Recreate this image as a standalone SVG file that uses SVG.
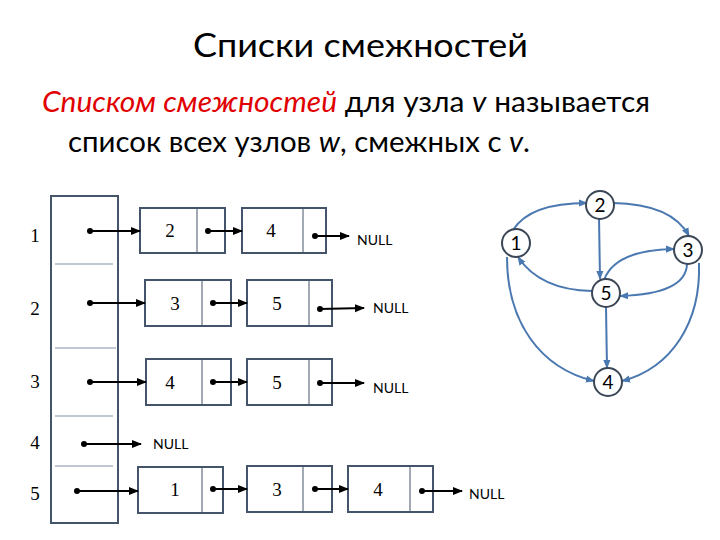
<svg xmlns="http://www.w3.org/2000/svg" width="720" height="540" viewBox="0 0 720 540">
<style>
.t{font-family:Lato,"Open Sans","Liberation Sans",sans-serif;fill:#000}
.red{fill:#e00000;font-style:italic}
.it{font-style:italic}
.box{fill:#fff;stroke:#44546a;stroke-width:2}
.div{stroke:#44546a;stroke-width:1}
.sep{stroke:#7f8fa6;stroke-width:1}
.num{font-family:"Liberation Serif","DejaVu Serif",serif;font-size:19px;fill:#000;text-anchor:middle}
.null{font-family:Lato,"Liberation Sans",sans-serif;font-size:14px;fill:#000}
.ptr{stroke:#000;stroke-width:2;fill:none;marker-end:url(#ah)}
.dot{fill:#000}
.gn{fill:#fff;stroke:#3b4656;stroke-width:2}
.gl{font-family:Lato,"Liberation Sans",sans-serif;font-size:19px;fill:#000;text-anchor:middle}
.ge{stroke:#4a78b0;stroke-width:2;fill:none;marker-end:url(#bh)}
</style>
<defs>
<marker id="ah" viewBox="0 0 10 10" refX="9" refY="5" markerWidth="5" markerHeight="5" orient="auto" markerUnits="strokeWidth"><path d="M0,1 L10,5 L0,9 z" fill="#000"/></marker>
<marker id="bh" viewBox="0 0 10 10" refX="9" refY="5" markerWidth="4.5" markerHeight="4.5" orient="auto" markerUnits="strokeWidth"><path d="M0,1 L10,5 L0,9 z" fill="#4a78b0"/></marker>
</defs>
<rect width="720" height="540" fill="#fff"/>
<g id="title">
<text class="t" x="193" y="57" font-size="33" textLength="335" lengthAdjust="spacingAndGlyphs">Списки смежностей</text>
<text class="t" x="42" y="112" font-size="28" textLength="608" lengthAdjust="spacingAndGlyphs"><tspan class="red">Списком смежностей</tspan> для узла <tspan class="it">v</tspan> называется</text>
<text class="t" x="68" y="152" font-size="28" textLength="462" lengthAdjust="spacingAndGlyphs">список всех узлов <tspan class="it">w</tspan>, смежных с <tspan class="it">v</tspan>.</text>
</g>
<g id="array">
<rect x="51" y="196" width="67" height="327" fill="#fff" stroke="#44546a" stroke-width="2"/>
<line class="sep" x1="55" y1="264" x2="113" y2="264"/>
<line class="sep" x1="55" y1="348" x2="116" y2="348"/>
<line class="sep" x1="55" y1="416" x2="113" y2="416"/>
<line class="sep" x1="55" y1="466" x2="113" y2="466"/>
<text class="num" x="35" y="242">1</text>
<text class="num" x="35" y="315">2</text>
<text class="num" x="35" y="388">3</text>
<text class="num" x="35" y="449">4</text>
<text class="num" x="35" y="500">5</text>
</g>
<g id="row1">
<rect class="box" x="140" y="208" width="85" height="45"/><line class="div" x1="197" y1="208" x2="197" y2="253"/>
<text class="num" x="170" y="237">2</text>
<rect class="box" x="242" y="208" width="84" height="45"/><line class="div" x1="303" y1="208" x2="303" y2="253"/>
<text class="num" x="271" y="237">4</text>
<text class="null" x="357" y="245">NULL</text>
</g>
<g id="row2">
<rect class="box" x="145" y="280" width="86" height="46"/><line class="div" x1="202" y1="280" x2="202" y2="326"/>
<text class="num" x="175" y="310">3</text>
<rect class="box" x="247" y="280" width="85" height="46"/><line class="div" x1="309" y1="280" x2="309" y2="326"/>
<text class="num" x="277" y="310">5</text>
<text class="null" x="373" y="313">NULL</text>
</g>
<g id="row3">
<rect class="box" x="146" y="359" width="85" height="46"/><line class="div" x1="202" y1="359" x2="202" y2="405"/>
<text class="num" x="170" y="389">4</text>
<rect class="box" x="247" y="359" width="85" height="46"/><line class="div" x1="309" y1="359" x2="309" y2="405"/>
<text class="num" x="277" y="389">5</text>
<text class="null" x="373" y="393">NULL</text>
</g>
<g id="row4">
<text class="null" x="153" y="449">NULL</text>
</g>
<g id="row5">
<rect class="box" x="138" y="467" width="85" height="46"/><line class="div" x1="202" y1="467" x2="202" y2="513"/>
<text class="num" x="175" y="496">1</text>
<rect class="box" x="247" y="466" width="85" height="46"/><line class="div" x1="303" y1="466" x2="303" y2="512"/>
<text class="num" x="277" y="496">3</text>
<rect class="box" x="348" y="466" width="85" height="46"/><line class="div" x1="410" y1="466" x2="410" y2="512"/>
<text class="num" x="378" y="496">4</text>
<text class="null" x="469" y="499">NULL</text>
</g>
<g id="pointers">
<circle class="dot" cx="90" cy="231" r="3"/><line class="ptr" x1="90" y1="231" x2="140" y2="231"/>
<circle class="dot" cx="208" cy="231" r="3"/><line class="ptr" x1="208" y1="231" x2="242" y2="231"/>
<circle class="dot" cx="315" cy="236" r="3"/><line class="ptr" x1="315" y1="236" x2="349" y2="236"/>
<circle class="dot" cx="90" cy="303" r="3"/><line class="ptr" x1="90" y1="303" x2="145" y2="303"/>
<circle class="dot" cx="213" cy="303" r="3"/><line class="ptr" x1="213" y1="303" x2="247" y2="303"/>
<circle class="dot" cx="320" cy="309" r="3"/><line class="ptr" x1="320" y1="309" x2="364" y2="308"/>
<circle class="dot" cx="90" cy="382" r="3"/><line class="ptr" x1="90" y1="382" x2="146" y2="382"/>
<circle class="dot" cx="213" cy="382" r="3"/><line class="ptr" x1="213" y1="382" x2="247" y2="382"/>
<circle class="dot" cx="320" cy="383" r="3"/><line class="ptr" x1="320" y1="383" x2="364" y2="383"/>
<circle class="dot" cx="84" cy="444" r="3"/><line class="ptr" x1="84" y1="444" x2="141" y2="444"/>
<circle class="dot" cx="77" cy="491" r="3"/><line class="ptr" x1="77" y1="491" x2="138" y2="491"/>
<circle class="dot" cx="213" cy="489" r="3"/><line class="ptr" x1="213" y1="489" x2="247" y2="489"/>
<circle class="dot" cx="315" cy="489" r="3"/><line class="ptr" x1="315" y1="489" x2="348" y2="489"/>
<circle class="dot" cx="422" cy="491" r="3"/><line class="ptr" x1="422" y1="491" x2="462" y2="491"/>
</g>
<g id="edges">
<path class="ge" d="M513,230 Q530,203 587,203"/>
<path class="ge" d="M613,203 Q672,204 689,236"/>
<path class="ge" d="M599,218 L600,279"/>
<path class="ge" d="M604,280 Q615,250 674,249"/>
<path class="ge" d="M687,264 Q686,294 620,296"/>
<path class="ge" d="M592,291 Q540,290 518,257"/>
<path class="ge" d="M606,307 L607,368"/>
<path class="ge" d="M507,257 C507,322 540,368 594,381"/>
<path class="ge" d="M699,263 C701,322 672,368 622,381"/>
</g>
<g id="n2"><circle class="gn" cx="600" cy="205" r="14"/><text class="gl" x="600" y="212">2</text></g>
<g id="n1"><circle class="gn" cx="516" cy="243" r="14"/><text class="gl" x="516" y="250">1</text></g>
<g id="n3"><circle class="gn" cx="688" cy="250" r="14"/><text class="gl" x="688" y="257">3</text></g>
<g id="n5"><circle class="gn" cx="606" cy="293" r="14"/><text class="gl" x="606" y="300">5</text></g>
<g id="n4"><circle class="gn" cx="608" cy="382" r="14"/><text class="gl" x="608" y="389">4</text></g>
</svg>
